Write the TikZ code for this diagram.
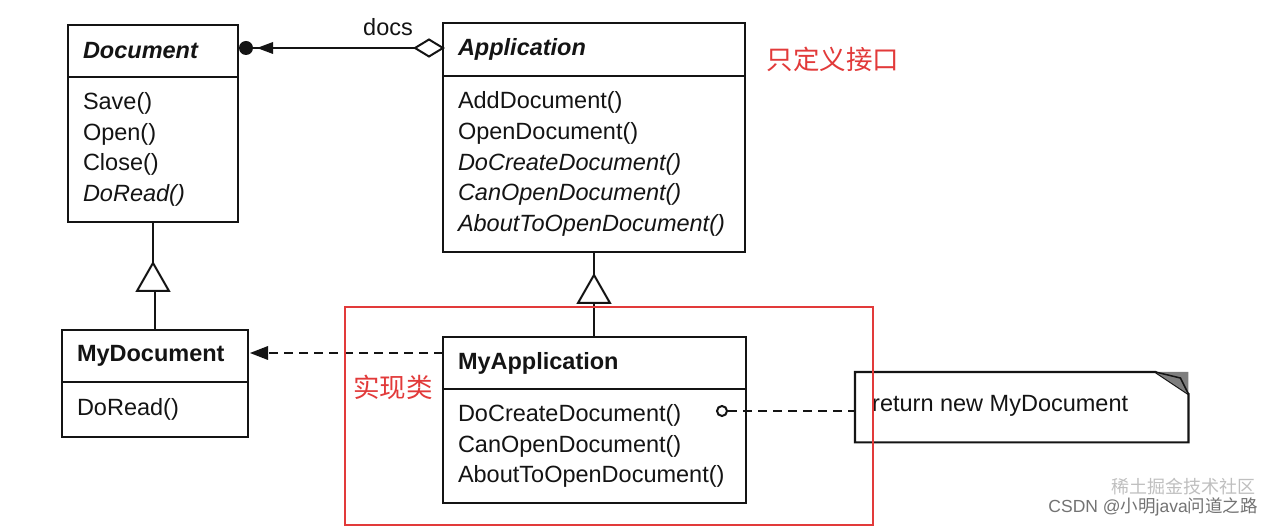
\documentclass[tikz,border=0pt]{standalone}
\usepackage{fontspec}
\setmainfont{Liberation Sans}
\newfontfamily\cjk{Noto Sans CJK SC}
\usetikzlibrary{calc}
\definecolor{umlred}{RGB}{226,58,58}
\definecolor{ink}{RGB}{20,20,20}
\tikzset{
  cls/.style={draw=ink, line width=2.2pt, anchor=north west, outer sep=0pt,
    inner xsep=15pt, inner ysep=0pt, align=left, text=ink,
    font=\fontsize{23.5}{30.8}\selectfont},
  conn/.style={draw=ink, line width=2pt},
  dashedconn/.style={draw=ink, line width=2pt, dash pattern=on 9pt off 6pt},
  redlabel/.style={text=umlred, font=\cjk\fontsize{26.5}{30}\selectfont, inner sep=0pt},
  plain/.style={text=ink, font=\fontsize{23.5}{26}\selectfont, inner sep=0pt}
}
\begin{document}
\begin{tikzpicture}[x=1pt,y=-1pt]
\useasboundingbox (0,0) rectangle (1272,526);
\fill[white] (0,0) rectangle (1272,526);

% Document
\node[cls, text width=140pt, minimum height=52pt] (doc) at (68,25) {\textbf{\textit{Document}}};
\node[cls, text width=140pt, minimum height=145pt] (docm) at (doc.south west) {Save()\\Open()\\Close()\\\textit{DoRead()}};

% Application
\node[cls, text width=272pt, minimum height=53pt] (app) at (443,23) {\textbf{\textit{Application}}};
\node[cls, text width=272pt, minimum height=176pt] (appm) at (app.south west) {AddDocument()\\OpenDocument()\\\textit{DoCreateDocument()}\\\textit{CanOpenDocument()}\\\textit{AboutToOpenDocument()}};

% MyDocument
\node[cls, text width=156pt, minimum height=52pt] (mydoc) at (62,330) {\textbf{MyDocument}};
\node[cls, text width=156pt, minimum height=55pt] (mydocm) at (mydoc.south west) {DoRead()};

% MyApplication
\node[cls, text width=273pt, minimum height=52pt] (myapp) at (443,337) {\textbf{MyApplication}};
\node[cls, text width=273pt, minimum height=114pt] (myappm) at (myapp.south west) {DoCreateDocument()\\CanOpenDocument()\\AboutToOpenDocument()};

% association docs
\coordinate (docE) at ($(doc.east)+(0,-3)$);
\draw[conn] (docE) -- (docE -| app.west);
\fill[ink] ($(docE)+(8,0)$) circle (7pt);
\fill[ink] ($(docE)+(19,0)$) -- ($(docE)+(35,-6)$) -- ($(docE)+(35,6)$) -- cycle;
\draw[conn, fill=white] (docE -| app.west) -- ++(-14,-8.5) -- ++(-14,8.5) -- ++(14,8.5) -- cycle;
\node[plain] (docs) at (388,27) {docs};

% inheritance Document <- MyDocument
\draw[conn] (docm.south) -- ++(0,41);
\draw[conn] (mydoc.north) -- ++(0,-39);
\draw[conn, fill=white] ($(docm.south)+(0,41)$) -- ++(16,28) -- ++(-32,0) -- cycle;

% inheritance Application <- MyApplication
\draw[conn] (myapp.north -| appm.south) -- (appm.south);
\draw[conn, fill=white] ($(appm.south)+(0,23)$) -- ++(16,28) -- ++(-32,0) -- cycle;

% dependency MyApplication -> MyDocument
\coordinate (depS) at ($(myapp.west)+(0,-10)$);
\draw[dashedconn] (depS) -- ($(depS -| mydoc.east)+(20,0)$);
\fill[ink] (depS -| mydoc.east) ++(2,0) -- ++(18,-7) -- ++(0,14) -- cycle;

% note
\node[draw=none, minimum width=333pt, minimum height=70pt, anchor=north west, inner sep=0pt] (note) at (855,372) {};
\draw[ink, line width=2.2pt] (note.north west) -- ($(note.north east)+(-33,0)$) -- ($(note.north east)+(0,22)$) -- (note.south east) -- (note.south west) -- cycle;
\fill[ink!55] ($(note.north east)+(-33,0)$) -- (note.north east) -- ($(note.north east)+(0,22)$) -- cycle;
\draw[ink, line width=1.5pt] ($(note.north east)+(-33,0)$) -- ($(note.north east)+(-8,6)$) -- ($(note.north east)+(0,22)$);
\node[plain, anchor=west] (notetext) at ($(note.west)+(17,-1)$) {return new MyDocument};

\node[draw=ink, line width=2pt, circle, inner sep=0pt, minimum size=10pt] (dot) at (722,411) {};
\draw[dashedconn] (dot.east) -- (dot.east -| note.west);

% red annotations
\node[draw=umlred, line width=2pt, minimum width=528pt, minimum height=218pt, anchor=north west, inner sep=0pt] (redbox) at (344,306) {};
\node[redlabel] (lbl1) at (833,59) {只定义接口};
\node[redlabel] (lbl2) at (393,387) {实现类};

% watermark
\node[text=black!25, font=\cjk\fontsize{18}{20}\selectfont, inner sep=0pt, anchor=east] (wm2) at (1256,487) {稀土掘金技术社区};
\node[text=black!55, font=\fontsize{17.5}{20}\selectfont, inner sep=0pt, anchor=east] (wm1) at (1258,507) {CSDN @{\cjk 小明}java{\cjk 问道之路}};
\end{tikzpicture}
\end{document}
